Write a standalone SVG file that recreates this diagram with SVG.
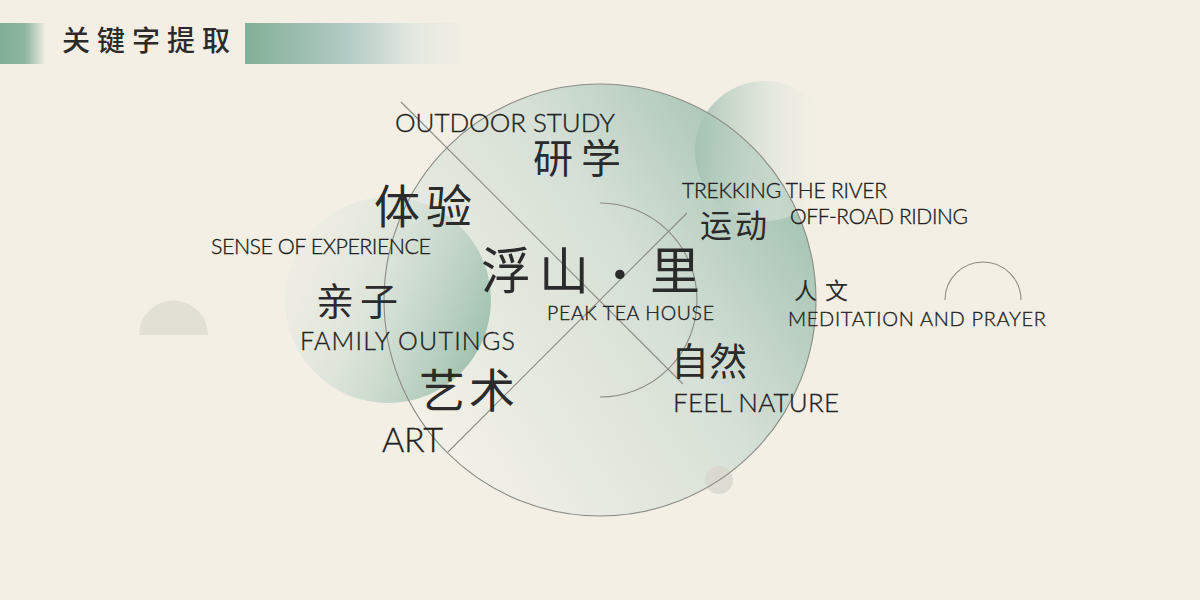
<svg xmlns="http://www.w3.org/2000/svg" width="1200" height="600" viewBox="0 0 1200 600">
<defs>
<linearGradient id="gBig" gradientUnits="userSpaceOnUse" x1="830" y1="190" x2="440" y2="440">
<stop offset="0" stop-color="#9dbfae"/>
<stop offset="0.45" stop-color="#d6e0d6"/>
<stop offset="1" stop-color="#f2f0e7"/>
</linearGradient>
<linearGradient id="gLeft" gradientUnits="userSpaceOnUse" x1="295" y1="240" x2="490" y2="330">
<stop offset="0" stop-color="#e4e8df" stop-opacity="0.25"/>
<stop offset="0.45" stop-color="#cddcd2" stop-opacity="0.6"/>
<stop offset="1" stop-color="#98bdaa" stop-opacity="0.9"/>
</linearGradient>
<linearGradient id="gTR" gradientUnits="userSpaceOnUse" x1="695" y1="0" x2="835" y2="0">
<stop offset="0" stop-color="#a2c2b2" stop-opacity="0.9"/>
<stop offset="0.6" stop-color="#dfe5dc" stop-opacity="0.55"/>
<stop offset="1" stop-color="#f3efe4" stop-opacity="0"/>
</linearGradient>
<linearGradient id="gHdrL" x1="0" y1="0" x2="1" y2="0">
<stop offset="0" stop-color="#80ae95"/>
<stop offset="0.55" stop-color="#8fb7a1"/>
<stop offset="1" stop-color="#f3efe4"/>
</linearGradient>
<linearGradient id="gHdrR" x1="0" y1="0" x2="1" y2="0">
<stop offset="0" stop-color="#82af97"/>
<stop offset="0.45" stop-color="#b2cbc4"/>
<stop offset="0.75" stop-color="#e4e8e0"/>
<stop offset="1" stop-color="#f3efe4"/>
</linearGradient>
<style>
.en{font-family:Lato,"Liberation Sans",sans-serif;font-weight:300;fill:#222;stroke:#222;stroke-width:0.35;}
.zh{font-family:"Noto Sans CJK SC",sans-serif;fill:#2b2b2b;}
.ln{stroke:#8c8c86;stroke-width:1.1;fill:none;}
</style>
</defs>
<rect width="1200" height="600" fill="#f3efe4"/>

<g id="header">
<rect x="0" y="23" width="46" height="41" fill="url(#gHdrL)"/>
<rect x="245" y="23" width="225" height="41" fill="url(#gHdrR)"/>
<text class="zh" x="62" y="51" font-size="28" font-weight="500" textLength="168" lengthAdjust="spacing" fill="#383838">关键字提取</text>
</g>

<g id="decor">
<path d="M139,335 A34.5,34.5 0 0 1 208,335 Z" fill="#e2dfd4"/>
<circle cx="600" cy="300" r="216" fill="url(#gBig)"/>
<circle cx="388" cy="300" r="103" fill="url(#gLeft)"/>
<circle cx="765" cy="151" r="70" fill="url(#gTR)"/>
<circle cx="719" cy="480" r="14" fill="#d8d6cd" opacity="0.8"/>
<circle cx="600" cy="300" r="216" class="ln"/>
<path d="M945,300 A38,38 0 0 1 1021,300" class="ln" stroke="#9a9a94"/>
</g>

<g id="connectors">
<line x1="401" y1="102" x2="683" y2="384" class="ln"/>
<line x1="448" y1="452" x2="687" y2="213" class="ln"/>
<path d="M600,203 A97,97 0 0 1 600,397" class="ln"/>
</g>

<g id="node-center">
<text class="zh" x="481 539 613 650" y="289" font-size="50">浮山<tspan font-family="Lato, sans-serif" font-weight="700">·</tspan>里</text>
<text class="en" x="547" y="320" font-size="19.5" textLength="167" lengthAdjust="spacing">PEAK TEA HOUSE</text>
</g>
<g id="node-study">
<text class="en" x="395" y="132" font-size="26" textLength="220" lengthAdjust="spacing">OUTDOOR STUDY</text>
<text class="zh" x="533" y="173" font-size="40" textLength="88" lengthAdjust="spacing">研学</text>
</g>
<g id="node-experience">
<text class="zh" x="374" y="223" font-size="46" textLength="98" lengthAdjust="spacing">体验</text>
<text class="en" x="211" y="254" font-size="21.5" textLength="220" lengthAdjust="spacing">SENSE OF EXPERIENCE</text>
</g>
<g id="node-family">
<text class="zh" x="316" y="315" font-size="38" textLength="82" lengthAdjust="spacing">亲子</text>
<text class="en" x="300" y="350" font-size="25" textLength="215" lengthAdjust="spacing">FAMILY OUTINGS</text>
</g>
<g id="node-art">
<text class="zh" x="419" y="407" font-size="46" textLength="96" lengthAdjust="spacing">艺术</text>
<text class="en" x="382" y="452" font-size="34" textLength="61" lengthAdjust="spacing">ART</text>
</g>
<g id="node-sport">
<text class="en" x="682" y="198" font-size="21" textLength="205" lengthAdjust="spacing">TREKKING THE RIVER</text>
<text class="en" x="790" y="224" font-size="21" textLength="178" lengthAdjust="spacing">OFF-ROAD RIDING</text>
<text class="zh" x="700" y="237" font-size="32" textLength="67" lengthAdjust="spacing">运动</text>
</g>
<g id="node-culture">
<text class="zh" x="794" y="299" font-size="23" textLength="54" lengthAdjust="spacing">人文</text>
<text class="en" x="788" y="326" font-size="20" textLength="258" lengthAdjust="spacing">MEDITATION AND PRAYER</text>
</g>
<g id="node-nature">
<text class="zh" x="671" y="375" font-size="38" textLength="76" lengthAdjust="spacing">自然</text>
<text class="en" x="673" y="412" font-size="26" textLength="166" lengthAdjust="spacing">FEEL NATURE</text>
</g>
</svg>
